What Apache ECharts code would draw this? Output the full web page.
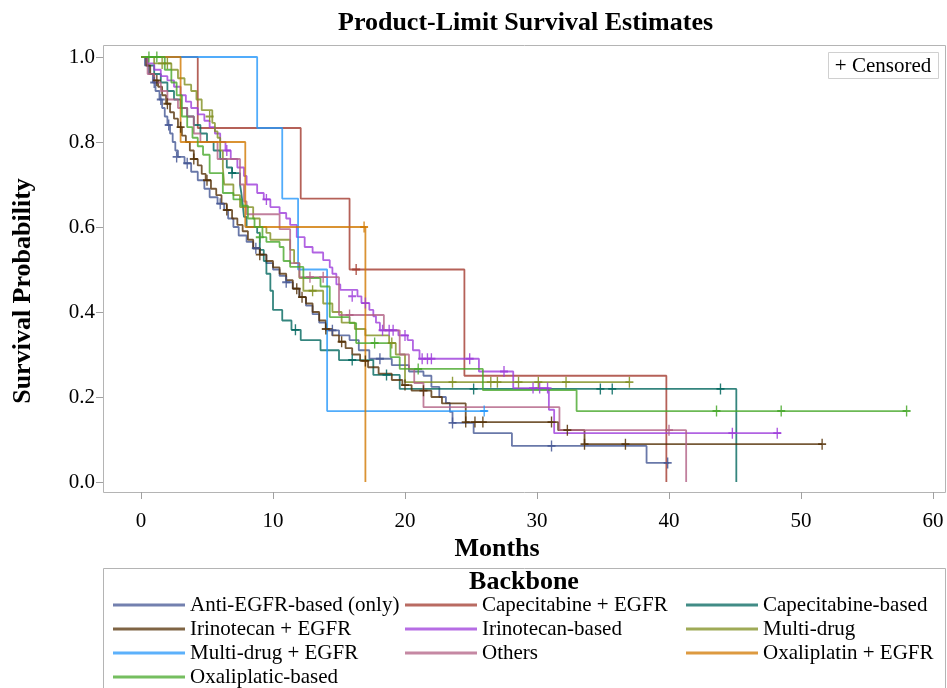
<!DOCTYPE html>
<html>
<head>
<meta charset="utf-8">
<title>Product-Limit Survival Estimates</title>
<script src="https://cdn.jsdelivr.net/npm/echarts@6/dist/echarts.min.js"></script>
<style>
  html, body { margin: 0; padding: 0; background: #fff; }
  #chart { width: 947px; height: 688px; }
</style>
</head>
<body>
<div id="chart"></div>
<script>
// step points: [months, survival after the drop]
const antiEgfr = [[0,1],[0.3,0.98],[0.6,0.96],[0.9,0.94],[1.1,0.92],[1.4,0.9],[1.6,0.88],[1.8,0.86],[2.0,0.84],[2.2,0.82],[2.4,0.8],[2.6,0.78],[2.8,0.765],[3.3,0.75],[3.8,0.73],[4.3,0.71],[4.8,0.69],[5.2,0.67],[5.8,0.655],[6.3,0.64],[6.6,0.62],[7.0,0.6],[7.4,0.58],[8.0,0.565],[8.5,0.55],[9.0,0.535],[9.5,0.515],[10.0,0.5],[10.5,0.485],[11.0,0.47],[11.5,0.455],[12.0,0.435],[12.5,0.415],[13.0,0.395],[13.5,0.375],[14.0,0.357],[15.0,0.345],[15.8,0.334],[16.5,0.31],[17.3,0.29],[19.0,0.275],[20.3,0.26],[21.4,0.25],[22.0,0.224],[22.6,0.2],[23.1,0.186],[23.4,0.165],[23.6,0.139],[25.2,0.115],[28.1,0.085],[38.3,0.045],[40.0,0.045]];
const antiEgfrCens = [[1.0,0.94],[1.5,0.9],[2.1,0.84],[2.7,0.765],[3.5,0.75],[6.0,0.655],[8.7,0.55],[11.0,0.47],[14.5,0.357],[18.1,0.29],[23.6,0.139],[31.1,0.085],[39.9,0.045]];

const capeEgfr = [[0,1],[4.3,0.833],[12.1,0.667],[15.8,0.5],[24.5,0.25],[39.8,0]];
const capeEgfrCens = [[16.3,0.5]];

const capeBased = [[0,1],[0.5,0.98],[1.0,0.96],[1.5,0.94],[2.0,0.92],[2.5,0.9],[3.0,0.88],[3.5,0.86],[4.0,0.84],[4.5,0.82],[5.0,0.8],[5.5,0.78],[6.0,0.76],[6.5,0.74],[6.9,0.727],[7.5,0.7],[7.6,0.68],[7.7,0.655],[7.8,0.624],[8.0,0.6],[8.8,0.586],[9.0,0.546],[9.3,0.52],[9.5,0.49],[9.8,0.45],[10.0,0.405],[10.7,0.38],[11.4,0.358],[12.1,0.334],[13.6,0.31],[15.0,0.287],[17.6,0.252],[19.6,0.219],[45.1,0]];
const capeBasedCens = [[6.9,0.727],[11.7,0.358],[16.0,0.287],[18.6,0.252],[25.2,0.219],[34.8,0.219],[35.7,0.219],[43.9,0.219]];

const iriEgfr = [[0,1],[0.4,0.98],[0.7,0.96],[1.0,0.945],[1.3,0.93],[1.6,0.91],[1.9,0.89],[2.2,0.87],[2.5,0.855],[2.8,0.835],[3.1,0.815],[3.4,0.8],[3.7,0.78],[4.0,0.76],[4.3,0.745],[4.6,0.725],[4.9,0.71],[5.3,0.69],[5.7,0.675],[6.1,0.655],[6.5,0.64],[6.9,0.62],[7.3,0.605],[7.7,0.59],[8.1,0.57],[8.5,0.55],[9.0,0.535],[9.5,0.52],[10.0,0.505],[10.5,0.49],[11.0,0.475],[11.5,0.455],[12.0,0.435],[12.5,0.42],[13.0,0.4],[13.5,0.38],[14.0,0.36],[14.5,0.345],[15.0,0.33],[15.5,0.315],[16.0,0.3],[16.6,0.285],[17.2,0.27],[18.0,0.255],[19.0,0.24],[19.8,0.228],[20.5,0.215],[22.0,0.2],[22.8,0.185],[24.6,0.141],[31.6,0.122],[33.6,0.089],[51.6,0.089]];
const iriEgfrCens = [[1.2,0.945],[2.0,0.89],[3.0,0.835],[4.0,0.76],[5.0,0.71],[6.5,0.64],[9.0,0.535],[11.8,0.455],[12.2,0.435],[14.0,0.36],[15.2,0.33],[17.0,0.285],[20.0,0.228],[21.4,0.215],[24.6,0.141],[25.3,0.141],[25.9,0.141],[31.1,0.141],[32.3,0.122],[33.6,0.089],[36.7,0.089],[51.6,0.089]];

const iriBased = [[0,1],[0.5,0.985],[1.0,0.97],[1.5,0.955],[2.0,0.945],[2.5,0.93],[3.0,0.91],[3.4,0.895],[3.8,0.88],[4.3,0.865],[4.8,0.85],[5.2,0.835],[5.6,0.82],[6.0,0.8],[6.4,0.78],[6.8,0.76],[7.3,0.74],[7.8,0.72],[8.0,0.7],[8.8,0.68],[9.3,0.665],[9.8,0.647],[10.5,0.633],[11.0,0.62],[11.3,0.605],[11.8,0.576],[12.4,0.553],[13.0,0.54],[13.8,0.522],[14.3,0.505],[14.5,0.49],[14.8,0.465],[15.1,0.452],[16.4,0.437],[16.7,0.421],[17.3,0.405],[17.6,0.39],[17.8,0.375],[18.1,0.357],[19.5,0.345],[20.2,0.334],[20.6,0.31],[21.1,0.29],[25.6,0.26],[28.2,0.221],[30.9,0.17],[31.3,0.115],[48.5,0.115]];
const iriBasedCens = [[6.5,0.78],[9.5,0.665],[16.0,0.437],[17.0,0.421],[18.3,0.357],[18.8,0.357],[19.1,0.357],[20.0,0.345],[21.3,0.29],[21.7,0.29],[22.0,0.29],[24.9,0.29],[27.5,0.26],[29.7,0.221],[30.2,0.221],[30.8,0.221],[44.8,0.115],[48.2,0.115]];

const multiDrug = [[0,1],[1.0,0.985],[2.3,0.97],[2.8,0.95],[3.3,0.935],[3.8,0.92],[4.2,0.9],[4.6,0.875],[5.4,0.845],[5.6,0.825],[5.8,0.81],[6.0,0.78],[6.2,0.74],[6.3,0.7],[7.0,0.675],[7.5,0.647],[8.5,0.62],[9.0,0.6],[9.5,0.586],[9.8,0.57],[11.3,0.546],[11.6,0.515],[12.0,0.48],[12.3,0.45],[13.8,0.42],[14.5,0.4],[15.2,0.375],[16.2,0.36],[17.0,0.345],[18.8,0.327],[19.3,0.3],[20.0,0.235],[37.0,0.235]];
const multiDrugCens = [[1.6,0.985],[2.0,0.985],[5.2,0.86],[13.0,0.45],[19.0,0.327],[23.6,0.235],[26.5,0.235],[27.0,0.235],[28.6,0.235],[30.1,0.235],[32.2,0.235],[37.0,0.235]];

const multiEgfr = [[0,1],[8.8,0.833],[10.7,0.667],[11.9,0.5],[14.1,0.167],[26.2,0.167]];
const multiEgfrCens = [[26.0,0.167]];

const others = [[0,1],[0.5,0.96],[1.0,0.94],[1.5,0.92],[2.0,0.9],[2.8,0.88],[3.5,0.86],[4.0,0.82],[4.5,0.8],[5.8,0.76],[7.5,0.7],[7.8,0.66],[8.0,0.63],[10.5,0.595],[11.3,0.515],[12.0,0.482],[15.0,0.393],[18.4,0.357],[19.6,0.3],[20.3,0.265],[20.7,0.233],[21.4,0.176],[31.7,0.122],[41.3,0]];
const othersCens = [[12.8,0.482],[13.8,0.482],[15.8,0.393],[40.0,0.122]];

const oxaEgfr = [[0,1],[3.0,0.8],[7.9,0.6],[17.0,0]];
const oxaEgfrCens = [[16.9,0.6]];

const oxaBased = [[0,1],[1.8,0.97],[2.3,0.94],[2.7,0.91],[3.1,0.86],[3.5,0.835],[3.9,0.81],[4.3,0.79],[4.7,0.77],[5.2,0.727],[6.2,0.68],[7.0,0.665],[7.6,0.65],[8.1,0.62],[8.6,0.6],[9.2,0.576],[9.5,0.565],[10.5,0.553],[10.8,0.52],[11.3,0.506],[12.3,0.48],[13.6,0.46],[14.3,0.388],[15.8,0.374],[16.3,0.327],[18.9,0.294],[19.6,0.266],[25.9,0.216],[33.0,0.167],[58.0,0.167]];
const oxaBasedCens = [[0.6,1],[1.2,1],[9.0,0.576],[17.7,0.327],[21.0,0.266],[43.6,0.167],[48.5,0.167],[58.0,0.167]];

const groupNames = ['Anti-EGFR-based (only)', 'Capecitabine + EGFR', 'Capecitabine-based', 'Irinotecan + EGFR', 'Irinotecan-based', 'Multi-drug', 'Multi-drug + EGFR', 'Others', 'Oxaliplatin + EGFR', 'Oxaliplatic-based'];
const groupSteps = [antiEgfr, capeEgfr, capeBased, iriEgfr, iriBased, multiDrug, multiEgfr, others, oxaEgfr, oxaBased];
const groupCens = [antiEgfrCens, capeEgfrCens, capeBasedCens, iriEgfrCens, iriBasedCens, multiDrugCens, multiEgfrCens, othersCens, oxaEgfrCens, oxaBasedCens];
const colors = ['#445694', '#A23A2E', '#01665E', '#543005', '#9D3CDB', '#7F8E1F', '#2597FA', '#B26084', '#D17800', '#47A82A'];

const xTicks = [0, 10, 20, 30, 40, 50, 60];
const yTicks = [0, 0.2, 0.4, 0.6, 0.8, 1.0];

const serif = '"Liberation Serif", "Times New Roman", serif';
const plusSymbol = 'path://M5,0 L5,10 M0,5 L10,5';

const chart = echarts.init(document.getElementById('chart'));

const lineSeries = groupNames.map((name, i) => ({
  name: name,
  type: 'line',
  step: 'end',
  data: groupSteps[i],
  symbol: 'none',
  clip: false,
  color: colors[i],
  lineStyle: { width: 1.8, opacity: 0.8 },
  emphasis: { disabled: true },
  z: 2
}));

const censorSeries = groupNames.map((name, i) => ({
  name: name + ' censored',
  type: 'scatter',
  data: groupCens[i],
  symbol: plusSymbol,
  symbolSize: [8, 11],
  itemStyle: { color: 'none', borderColor: colors[i], borderWidth: 1.6, opacity: 0.85 },
  emphasis: { disabled: true },
  z: 3
}));

const legendBase = {
  orient: 'vertical',
  icon: 'rect',
  itemWidth: 72,
  itemHeight: 3,
  itemGap: 0,
  padding: 0,
  selectedMode: false,
  itemStyle: { opacity: 0.75 },
  textStyle: { fontFamily: serif, fontSize: 21, color: '#000', lineHeight: 24 }
};

// legend laid out as 3 columns, row by row
const legendCols = [
  { left: 113, top: 593, names: [groupNames[0], groupNames[3], groupNames[6]] },
  { left: 113, top: 665, names: [groupNames[9]] },
  { left: 405, top: 593, names: [groupNames[1], groupNames[4], groupNames[7]] },
  { left: 686, top: 593, names: [groupNames[2], groupNames[5], groupNames[8]] }
];

chart.setOption({
  animation: false,
  backgroundColor: '#fff',
  title: {
    text: 'Product-Limit Survival Estimates',
    left: 333,
    top: 5,
    textStyle: { fontFamily: serif, fontSize: 26, fontWeight: 'bold', color: '#000' }
  },
  grid: { left: 141, right: 14, top: 57, bottom: 206 },
  xAxis: {
    type: 'value',
    min: xTicks[0],
    max: xTicks[xTicks.length - 1],
    interval: 10,
    offset: 10,
    axisLine: { show: false, onZero: false },
    axisTick: { show: true, length: 7, lineStyle: { color: '#a0a0a0' } },
    axisLabel: { fontFamily: serif, fontSize: 21, color: '#000', margin: 19 },
    splitLine: { show: false }
  },
  yAxis: {
    type: 'value',
    min: yTicks[0],
    max: yTicks[yTicks.length - 1],
    interval: 0.2,
    offset: 38,
    axisLine: { show: false, onZero: false },
    axisTick: { show: true, length: 7, lineStyle: { color: '#a0a0a0' } },
    axisLabel: { fontFamily: serif, fontSize: 21, color: '#000', margin: 8, formatter: v => v.toFixed(1) },
    splitLine: { show: false }
  },
  legend: legendCols.map(c => Object.assign({ left: c.left, top: c.top, data: c.names }, legendBase)),
  graphic: [
    { type: 'rect', shape: { x: 103.5, y: 45.5, width: 842, height: 447 }, style: { fill: 'none', stroke: '#b4b4b4', lineWidth: 1 }, z: 0 },
    { type: 'rect', shape: { x: 103.5, y: 568.5, width: 842, height: 130 }, style: { fill: 'none', stroke: '#b4b4b4', lineWidth: 1 }, z: 0 },
    { type: 'rect', shape: { x: 828.5, y: 52.5, width: 110, height: 26 }, style: { fill: '#fff', stroke: '#d0d0d0', lineWidth: 1 }, z: 5 },
    { type: 'text', x: 883, y: 66, style: { text: '+ Censored', font: '21px ' + serif, fill: '#000', align: 'center', verticalAlign: 'middle' }, z: 6 },
    { type: 'text', x: 497, y: 549, style: { text: 'Months', font: 'bold 26px ' + serif, fill: '#000', align: 'center', verticalAlign: 'middle' } },
    { type: 'text', x: 23, y: 291, rotation: Math.PI / 2, style: { text: 'Survival Probability', font: 'bold 26px ' + serif, fill: '#000', align: 'center', verticalAlign: 'middle' } },
    { type: 'text', x: 524, y: 582, style: { text: 'Backbone', font: 'bold 26px ' + serif, fill: '#000', align: 'center', verticalAlign: 'middle' } }
  ],
  series: lineSeries.concat(censorSeries)
});
</script>
</body>
</html>
